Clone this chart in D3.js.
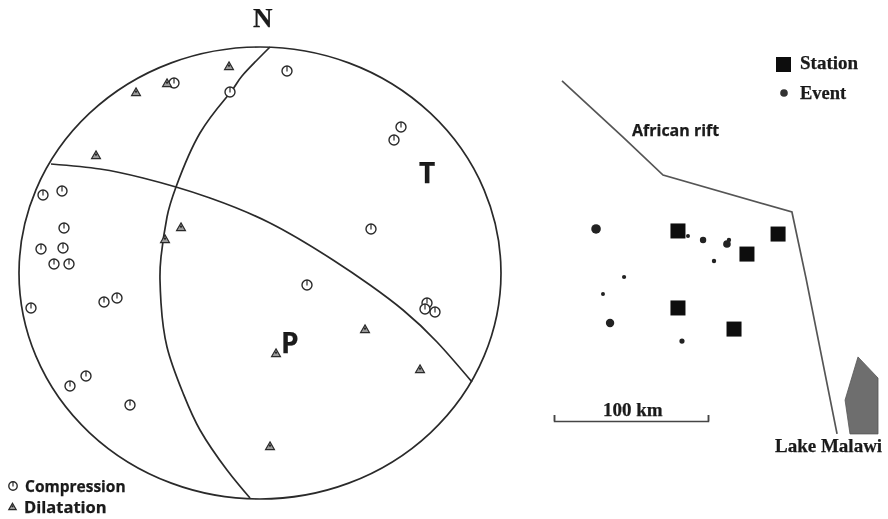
<!DOCTYPE html>
<html>
<head>
<meta charset="utf-8">
<script src="https://cdn.jsdelivr.net/npm/d3@7"></script>
<style>
html,body{margin:0;padding:0;background:#fff;}
svg{display:block;}
</style>
</head>
<body>
<svg id="c" width="888" height="519"></svg>
<script>
// Focal mechanism (stereonet units, centre = 0,0)
const compression = [[-86,190],[-30,181],[27,202],[141,146],[134,133],[111,44],[-217,78],[-198,82],[-196,45],[-219,24],[-197,25],[-206,9],[-191,9],[-229,-35],[-156,-29],[-143,-25],[-174,-103],[-190,-113],[-130,-132],[47,-12],[167,-30],[165,-36],[175,-39]];
const dilatation = [[-31,206],[-93,189],[-124,180],[-164,117],[-79,45],[-95,33],[105,-57],[160,-97],[16,-81],[10,-174]];
const planeA = [[10,226],[-18,197],[-30,180],[-60,140],[-84,86],[-93,56],[-99,16],[-100,-7],[-99,-30],[-93,-74],[-77,-120],[-60,-157],[-33,-197],[-10,-225]];
const planeB = [[-209,109],[-160,104],[-117,95],[-84,86],[-50,75],[10,50],[73,13],[110,-12],[143,-37],[177,-69],[212,-109]];
// Map (km from scale-bar origin)
const stations = [[80.5,123.4],[145.5,121.4],[125.3,108.4],[80.5,73.4],[116.9,59.7]];
const events = [[27.3,124.7],[87,120.1],[96.8,117.5],[112.3,114.9],[113.6,117.5],[103.9,103.9],[45.5,93.5],[31.8,82.5],[36.4,63.6],[83.1,51.9]];
const eventMagnitude = [4.8,2,3.2,3.8,2.2,2.2,2.1,2,4.2,2.6];
const rift = [[5.2,220.8],[44.8,184.4],[70.8,159.7],[154.5,135.7],[163.6,92.9],[183.8,-8.4]];
const lake = [[197.4,41.6],[210.4,27.9],[210.4,-8.4],[192.2,-8.4],[189,13.6]];
const scaleTicks = [0,100];

const svg = d3.select("#c");
const defs = svg.append("defs");
defs.append("filter").attr("id","soft")
  .attr("filterUnits","userSpaceOnUse").attr("x",0).attr("y",0).attr("width",888).attr("height",519)
  .append("feGaussianBlur").attr("stdDeviation",0.45);
const root = svg.append("g").attr("filter","url(#soft)");
root.append("rect").attr("width",888).attr("height",519).attr("fill","#fff");

const sx = d3.scaleLinear().domain([-241,241]).range([19,501]);
const sy = d3.scaleLinear().domain([-226,226]).range([499,47]);
const mx = d3.scaleLinear().domain([0,100]).range([554,708]);
const my = d3.scaleLinear().domain([0,100]).range([421,267]);
const rScale = d3.scaleLinear().domain([1,5]).range([1,5]);
const ink = "#2a2a2a";

// Net outline
root.append("ellipse").attr("cx",sx(0)).attr("cy",sy(0)).attr("rx",sx(241)-sx(0)).attr("ry",sy(0)-sy(226))
  .attr("fill","none").attr("stroke",ink).attr("stroke-width",1.7);

const planeLine = d3.line().x(d=>sx(d[0])).y(d=>sy(d[1])).curve(d3.curveNatural);
root.selectAll("path.plane").data([planeA,planeB]).join("path").attr("class","plane")
  .attr("d",planeLine).attr("fill","none").attr("stroke",ink).attr("stroke-width",1.7);

function drawCompression(g,x,y,r){
  g.append("circle").attr("cx",x).attr("cy",y).attr("r",r).attr("fill","#fff").attr("stroke",ink).attr("stroke-width",1.4);
  g.append("line").attr("x1",x).attr("x2",x).attr("y1",y-r).attr("y2",y+0.5).attr("stroke",ink).attr("stroke-width",1.2);
}
const triangle = d3.symbol().type(d3.symbolTriangle);
function drawDilatation(g,x,y,size){
  const a = Math.sqrt(size);
  g.append("path").attr("d",triangle.size(size)()).attr("transform",`translate(${x},${y})`)
    .attr("fill","#9a9a9a").attr("stroke",ink).attr("stroke-width",1.2);
  g.append("circle").attr("cx",x).attr("cy",y-a*0.25).attr("r",a*0.2).attr("fill",ink);
}
compression.forEach(d=>drawCompression(root,sx(d[0]),sy(d[1]),5));
dilatation.forEach(d=>drawDilatation(root,sx(d[0]),sy(d[1]),34));

// Labels
const label = (t,x,y,size,family)=>root.append("text").text(t).attr("x",x).attr("y",y)
  .attr("font-size",size).attr("font-family",family).attr("font-weight","bold").attr("fill","#1a1a1a")
  .attr("stroke","#1a1a1a").attr("stroke-width",0.25);
const serif = "'Liberation Serif',serif", sans = "'Open Sans',sans-serif";
label("N",253,27,27,serif);
label("T",419,183,28,sans);
label("P",281,353,28,sans);

// Net legend
drawCompression(root,13,486,4.2);
drawDilatation(root,12.5,507.5,24);
label("Compression",25,492,15.5,sans);
label("Dilatation",24,513,16.5,sans);

// Map
const mapLine = d3.line().x(d=>mx(d[0])).y(d=>my(d[1]));
root.append("path").attr("d",mapLine(rift)).attr("fill","none").attr("stroke","#555").attr("stroke-width",1.7);
root.append("path").attr("d",mapLine(lake)+"Z").attr("fill","#6e6e6e").attr("stroke","#555").attr("stroke-width",0.8);

const S = 15;
root.selectAll("rect.st").data(stations).join("rect").attr("class","st")
  .attr("x",d=>mx(d[0])-S/2).attr("y",d=>my(d[1])-S/2).attr("width",S).attr("height",S).attr("fill","#0c0c0c");
root.selectAll("circle.ev").data(events).join("circle").attr("class","ev")
  .attr("cx",d=>mx(d[0])).attr("cy",d=>my(d[1])).attr("r",(d,i)=>rScale(eventMagnitude[i])).attr("fill","#222");

// Map legend
root.append("rect").attr("x",776).attr("y",57).attr("width",15).attr("height",15).attr("fill","#0c0c0c");
root.append("circle").attr("cx",784).attr("cy",93).attr("r",3.8).attr("fill","#333");
label("Station",800,69,19,serif);
label("Event",800,99,18.5,serif);
label("African rift",632,136,16,sans);
label("Lake Malawi",775,452,19,serif);

// Scale bar
const bar = root.append("g").attr("transform",`translate(0,${my(0)})`)
  .call(d3.axisTop(mx).tickValues(scaleTicks).tickSize(6).tickSizeOuter(6).tickFormat(""));
bar.selectAll("path,line").attr("stroke","#444").attr("stroke-width",1.5);
label("100 km",603,416,19,serif);
</script>
</body>
</html>
